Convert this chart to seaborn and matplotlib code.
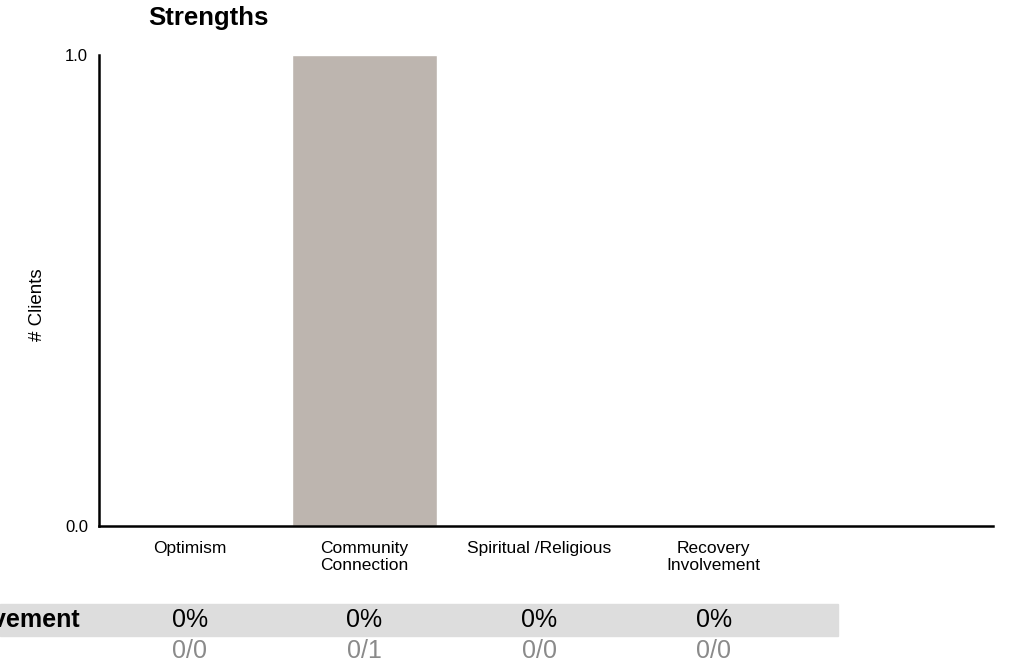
import pandas as pd
import seaborn as sns
import matplotlib.pyplot as plt
import matplotlib.transforms as mtransforms
from matplotlib.patches import Rectangle

# Data
categories = ["Optimism", "Community\nConnection", "Spiritual /Religious", "Recovery\nInvolvement"]
clients = [0, 1, 0, 0]
row_label = "Recovery Involvement"
row_pct = ["0%", "0%", "0%", "0%"]
row_counts = ["0/0", "0/1", "0/0", "0/0"]

df = pd.DataFrame({"category": categories, "clients": clients})

sns.set_style("white", {"text.color": "black", "xtick.color": "black",
                        "ytick.color": "black", "axes.edgecolor": "black",
                        "axes.labelcolor": "black"})
plt.rcParams["font.family"] = ["Liberation Sans", "DejaVu Sans"]

fig = plt.figure(figsize=(10.36, 6.63), dpi=100)
ax = fig.add_axes([0.0956, 0.2066, 0.8629, 0.7104])

sns.barplot(data=df, x="category", y="clients", color="#bdb5af", width=0.83,
            saturation=1, ax=ax)

ax.set_xlim(-0.52, 4.6)
ax.set_ylim(0, 1)
ax.set_yticks([0, 1])
ax.set_yticklabels(["0.0", "1.0"], fontsize=12)
ax.tick_params(axis="x", labelsize=12.5, length=0, pad=11)
ax.tick_params(axis="y", length=0, pad=8)
for lab in ax.get_xticklabels():
    lab.set_linespacing(1.1)
ax.set_xlabel("")
ax.set_ylabel("")
sns.despine(ax=ax)
ax.spines["left"].set_linewidth(1.8)
ax.spines["bottom"].set_linewidth(1.8)

fig.text(148 / 1036, 1 - 18 / 663, "Strengths", fontsize=18.5, fontweight="bold",
         ha="left", va="center")
fig.text(37 / 1036, 1 - 305 / 663, "# Clients", fontsize=13.5, rotation=90,
         ha="center", va="center")

# Summary table below the chart (row label is cut off at the left edge, as in the original)
fig.patches.append(Rectangle((0, 1 - 636 / 663), 838 / 1036, 32 / 663,
                             transform=fig.transFigure, color="#dddddd", zorder=0))
fig.text(80 / 1036, 1 - 620 / 663, row_label, fontsize=18, fontweight="bold",
         ha="right", va="center")
trans = mtransforms.blended_transform_factory(ax.transData, fig.transFigure)
for i, (p, c) in enumerate(zip(row_pct, row_counts)):
    fig.text(i, 1 - 620 / 663, p, transform=trans, fontsize=18, ha="center",
             va="center", color="black")
    fig.text(i, 1 - 651 / 663, c, transform=trans, fontsize=18, ha="center",
             va="center", color="#8a8a8a")

fig.savefig("out.png", dpi=100)
